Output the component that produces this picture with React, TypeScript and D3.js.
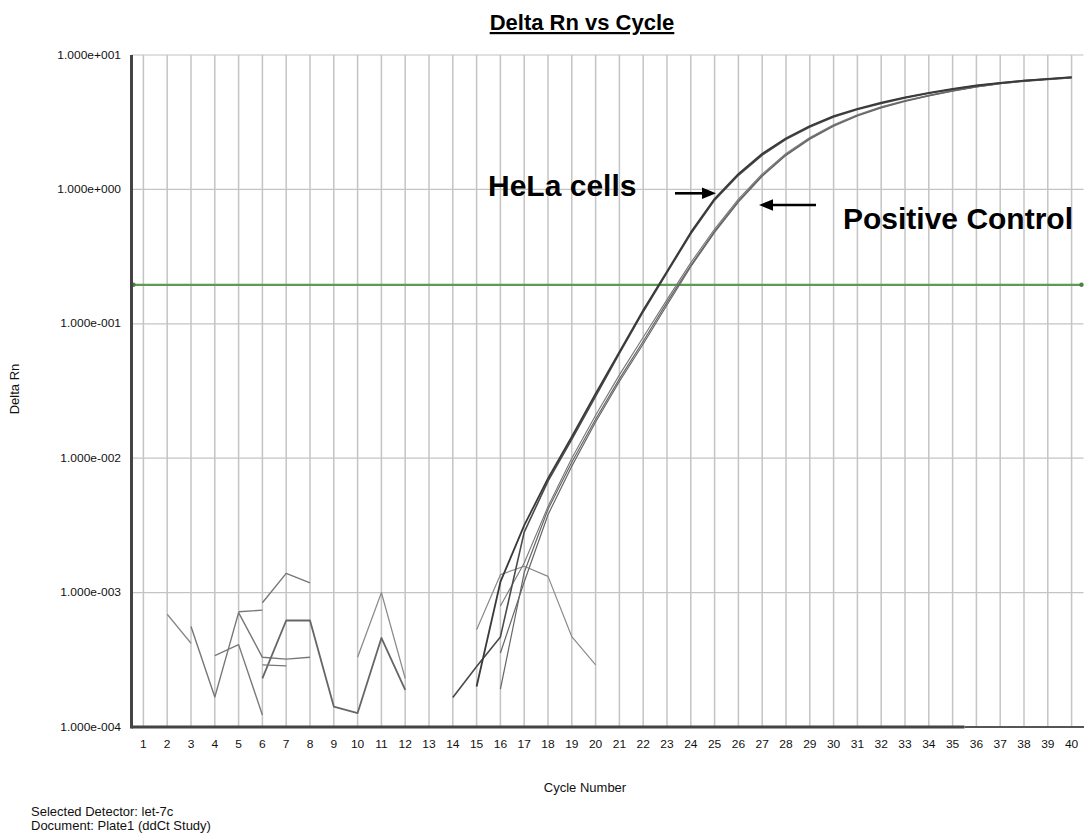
import React from 'react';
import * as d3 from 'd3';

const W = 1084;
const H = 834;

const cycleTicks = [1, 2, 3, 4, 5, 6, 7, 8, 9, 10, 11, 12, 13, 14, 15, 16, 17, 18, 19, 20,
  21, 22, 23, 24, 25, 26, 27, 28, 29, 30, 31, 32, 33, 34, 35, 36, 37, 38, 39, 40];
const yTickValues = [1e-4, 1e-3, 1e-2, 1e-1, 1, 10];
const yTickLabels = ['1.000e-004', '1.000e-003', '1.000e-002', '1.000e-001', '1.000e+000', '1.000e+001'];
const thresholdValue = 0.195;

// Amplification curves (HeLa cells)
const hela1Start = 15;
const hela1 = [2.0e-4, 1.2e-3, 3.16e-3, 7.08e-3, 0.01445, 0.0302, 0.0617, 0.126, 0.245, 0.479, 0.851,
  1.303, 1.841, 2.399, 2.965, 3.508, 3.981, 4.416, 4.842, 5.224, 5.585, 5.929, 6.209, 6.457, 6.653, 6.839];
const hela2Start = 14;
const hela2 = [1.66e-4, 2.82e-4, 4.68e-4, 2.82e-3, 6.76e-3, 0.0138, 0.0288, 0.0603, 0.123, 0.24, 0.468, 0.832,
  1.274, 1.799, 2.355, 2.911, 3.451, 3.926, 4.365, 4.797, 5.188, 5.559, 5.902, 6.194, 6.442, 6.637, 6.823];

// Amplification curves (Positive control)
const pos1Start = 16;
const pos1 = [1.91e-4, 1.41e-3, 4.17e-3, 9.33e-3, 0.0195, 0.0389, 0.0741, 0.1445, 0.272, 0.49, 0.822,
  1.274, 1.82, 2.399, 2.985, 3.548, 4.074, 4.55, 4.989, 5.408, 5.794, 6.124, 6.383, 6.577, 6.761];
const pos2Start = 16;
const pos2 = [7.94e-4, 1.66e-3, 4.37e-3, 0.01, 0.0209, 0.0417, 0.0794, 0.1514, 0.285, 0.507, 0.847,
  1.303, 1.854, 2.438, 3.027, 3.589, 4.111, 4.592, 5.023, 5.433, 5.821, 6.138, 6.397, 6.592, 6.776];
const pos3Start = 16;
const pos3 = [3.55e-4, 1.2e-3, 3.8e-3, 8.71e-3, 0.0186, 0.0372, 0.0708, 0.138, 0.266, 0.479, 0.804,
  1.25, 1.791, 2.366, 2.951, 3.516, 4.046, 4.519, 4.966, 5.383, 5.781, 6.109, 6.368, 6.561, 6.761];

// Baseline noise traces
const noise1Start = 2;
const noise1 = [6.9e-4, 4.2e-4];
const noise2Start = 3;
const noise2 = [5.6e-4, 1.67e-4, 7.1e-4, 3.3e-4, 3.2e-4, 3.3e-4];
const noise3Start = 5;
const noise3 = [7.2e-4, 7.4e-4];
const noise4Start = 6;
const noise4 = [8.4e-4, 1.39e-3, 1.18e-3];
const noise5Start = 4;
const noise5 = [3.4e-4, 4.1e-4, 1.23e-4];
const noise6Start = 6;
const noise6 = [2.3e-4, 6.2e-4, 6.2e-4, 1.42e-4, 1.27e-4, 4.6e-4, 1.89e-4];
const noise7Start = 6;
const noise7 = [2.9e-4, 2.85e-4];
const noise8Start = 10;
const noise8 = [3.3e-4, 1.0e-3, 2.3e-4];
const noise9Start = 15;
const noise9 = [5.3e-4, 1.36e-3, 1.57e-3, 1.32e-3, 4.7e-4, 2.9e-4];

const FONT = '"Liberation Sans", Arial, Helvetica, sans-serif';

type Pt = [number, number];
const toPts = (start: number, vals: number[]): Pt[] => vals.map((v, i) => [start + i, v]);

export default function App() {
  const left = 131.5, right = 1083.5, top = 55, bottom = 727;
  const x = d3.scaleLinear().domain([0.5, 40.5]).range([left, right]);
  const y = d3.scaleLog().domain([1e-4, 10]).range([bottom, top]);

  const straight = d3.line<Pt>().x(d => x(d[0])).y(d => y(d[1]));

  const amp = [
    { d: toPts(pos1Start, pos1), c: '#666', w: 1.2 },
    { d: toPts(pos2Start, pos2), c: '#777', w: 1.1 },
    { d: toPts(pos3Start, pos3), c: '#666', w: 1.2 },
    { d: toPts(hela2Start, hela2), c: '#4a4a4a', w: 1.6 },
    { d: toPts(hela1Start, hela1), c: '#3a3a3a', w: 1.8 },
  ];
  const noise = [
    { d: toPts(noise1Start, noise1), c: '#888', w: 1.3 },
    { d: toPts(noise2Start, noise2), c: '#777', w: 1.4 },
    { d: toPts(noise3Start, noise3), c: '#777', w: 1.4 },
    { d: toPts(noise4Start, noise4), c: '#777', w: 1.4 },
    { d: toPts(noise5Start, noise5), c: '#7a7a7a', w: 1.4 },
    { d: toPts(noise6Start, noise6), c: '#666', w: 1.8 },
    { d: toPts(noise7Start, noise7), c: '#777', w: 1.3 },
    { d: toPts(noise8Start, noise8), c: '#8a8a8a', w: 1.3 },
    { d: toPts(noise9Start, noise9), c: '#8a8a8a', w: 1.2 },
  ];

  const yT = y(thresholdValue);

  return (
    <svg width={W} height={H} style={{ position: 'absolute', left: 0, top: 0, background: '#fff' }}
      fontFamily={FONT}>
      <rect x={0} y={0} width={W} height={H} fill="#fff" />
      {/* title */}
      <text x={582} y={30} textAnchor="middle" fontSize={22} fontWeight="bold" fill="#000"
        textDecoration="underline">Delta Rn vs Cycle</text>

      {/* top border */}
      <line x1={left} x2={right} y1={top} y2={top} stroke="#d6d6d6" strokeWidth={1.5} />
      {/* vertical grid */}
      {cycleTicks.map(c => (
        <line key={'vg' + c} x1={x(c)} x2={x(c)} y1={top} y2={bottom} stroke="#c4c4c4" strokeWidth={1.5} />
      ))}
      {/* horizontal grid */}
      {yTickValues.slice(1, 5).map(v => (
        <line key={'hg' + v} x1={left} x2={right} y1={y(v)} y2={y(v)} stroke="#c4c4c4" strokeWidth={1.2} />
      ))}

      {/* threshold */}
      <line x1={left} x2={right - 1} y1={yT} y2={yT} stroke="#5f9a55" strokeWidth={2.2} />
      <circle cx={left + 2} cy={yT} r={2.2} fill="#4f7f48" />
      <circle cx={right - 2} cy={yT} r={2.2} fill="#4f7f48" />

      {/* noise */}
      {noise.map((s, i) => (
        <path key={'n' + i} d={straight(s.d) || ''} fill="none" stroke={s.c} strokeWidth={s.w}
          strokeLinejoin="round" />
      ))}
      {/* amplification curves */}
      {amp.map((s, i) => (
        <path key={'a' + i} d={straight(s.d) || ''} fill="none" stroke={s.c} strokeWidth={s.w}
          strokeLinejoin="round" />
      ))}

      {/* axes */}
      <line x1={left} x2={left} y1={top} y2={bottom + 1.5} stroke="#444" strokeWidth={3} />
      <line x1={left} x2={x(35.5)} y1={bottom} y2={bottom} stroke="#444" strokeWidth={3} />
      <line x1={x(35.5)} x2={W} y1={bottom} y2={bottom} stroke="#555" strokeWidth={2} />

      {/* y tick labels */}
      {yTickValues.map((v, i) => (
        <text key={'yl' + v} transform={`translate(121,${y(v)}) scale(1.2,1)`} textAnchor="end"
          dominantBaseline="central" fontSize={10} fill="#111">{yTickLabels[i]}</text>
      ))}
      {/* x tick labels */}
      {cycleTicks.map(c => (
        <text key={'xl' + c} transform={`translate(${x(c)},748) scale(1.2,1)`} textAnchor="middle"
          fontSize={10} fill="#111">{c}</text>
      ))}

      {/* axis titles */}
      <text transform="translate(19,389) rotate(-90)" textAnchor="middle" fontSize={13} fill="#111">Delta Rn</text>
      <text x={585} y={792} textAnchor="middle" fontSize={13} fill="#111">Cycle Number</text>

      {/* annotations */}
      <text x={488} y={196} fontSize={30} fontWeight="bold" fill="#000">HeLa cells</text>
      <line x1={675} x2={705} y1={193.3} y2={193.3} stroke="#000" strokeWidth={2.6} />
      <polygon points="702,187.5 716,193.3 702,199.1" fill="#000" />
      <text x={843} y={229} fontSize={30} fontWeight="bold" fill="#000">Positive Control</text>
      <line x1={816} x2={770} y1={205} y2={205} stroke="#000" strokeWidth={2.6} />
      <polygon points="773,199.2 759,205 773,210.8" fill="#000" />

      {/* footer */}
      <text x={31} y={816} fontSize={13} fill="#111">Selected Detector: let-7c</text>
      <text x={31} y={830} fontSize={13} fill="#111">Document: Plate1 (ddCt Study)</text>
    </svg>
  );
}
